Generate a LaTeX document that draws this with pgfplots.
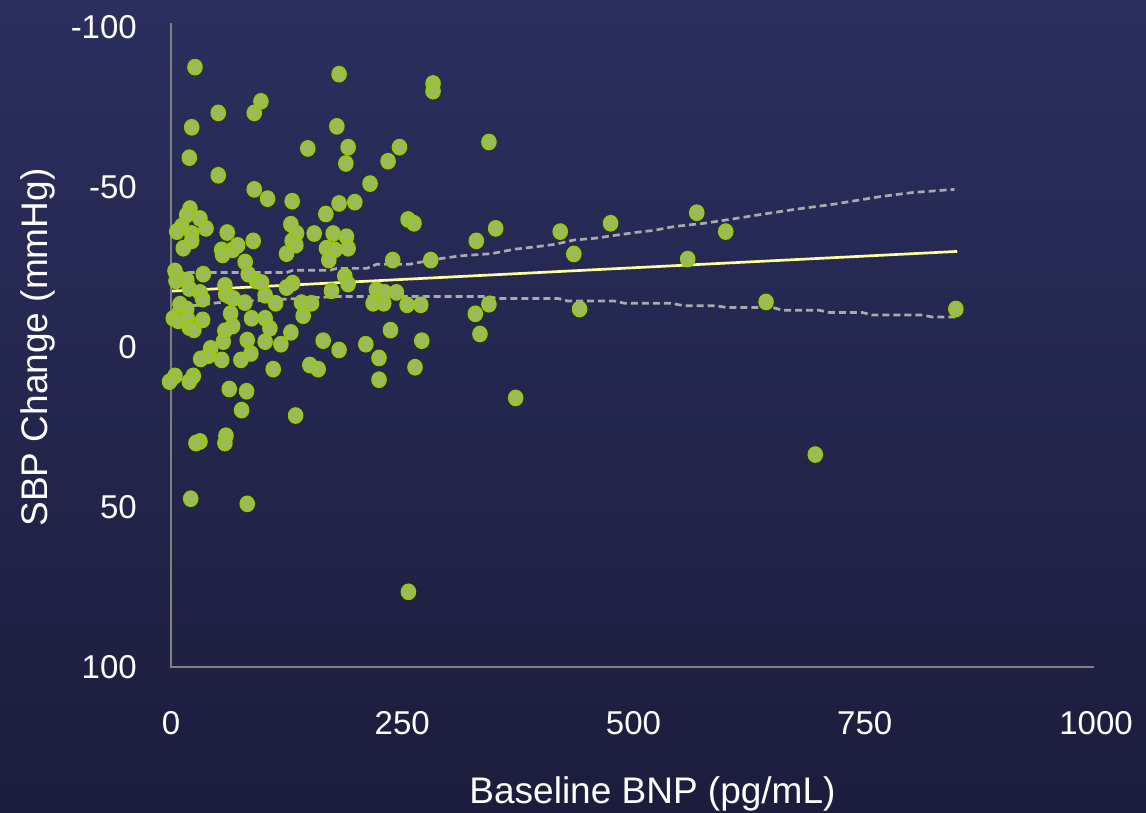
\documentclass[border=0pt]{standalone}
\usepackage{fontspec}
\setmainfont{Liberation Sans}
\usepackage{pgfplots}
\pgfplotsset{compat=1.18}
\definecolor{bgtop}{RGB}{43,47,94}
\definecolor{bgbot}{RGB}{28,29,60}
\definecolor{ptfill}{RGB}{155,187,89}
\definecolor{ptdraw}{RGB}{153,204,0}
\definecolor{axgray}{RGB}{128,128,128}
\definecolor{cigray}{RGB}{170,170,170}
\definecolor{regyel}{RGB}{255,255,153}

\begin{document}
\begin{tikzpicture}[x=1pt,y=1pt]
\useasboundingbox (0,0) rectangle (1146,812);
\shade[top color=bgtop,bottom color=bgbot] (0,0) rectangle (1146,812);
\begin{axis}[
  at={(171pt,145pt)}, anchor=south west,
  scale only axis, width=925pt, height=644pt,
  xmin=0, xmax=1000, ymin=-101.3, ymax=100,
  y dir=reverse, clip=false,
  axis line style={draw=none},
  major tick length=0pt,
  xtick={0,250,500,750,1000},
  ytick={-100,-50,0,50,100},
  /pgf/number format/assume math mode=true,
  /pgf/number format/1000 sep={},
  tick label style={font=\fontsize{33}{40}\selectfont, text=white, inner sep=0pt},
  xticklabel style={anchor=center, yshift=-56pt},
  yticklabel style={anchor=east, xshift=-34pt},
]
\addplot[only marks, mark=*, mark size=7pt,
  mark options={fill=ptfill, draw=ptdraw, line width=1.6pt, yscale=1.08}] coordinates {
(25.9,-87.5) (181.7,-85.3) (283.3,-82.4) (283.3,-80.0) (97.2,-76.8)
(90.0,-73.2) (51.1,-73.2) (22.4,-68.7) (179.3,-69.0) (19.8,-59.2)
(147.9,-62.1) (191.5,-62.5) (247.0,-62.5) (189.0,-57.4) (234.7,-58.1)
(51.1,-53.7) (215.2,-51.1) (90.0,-49.3) (104.4,-46.4) (131.0,-45.6)
(181.7,-44.9) (198.7,-45.3) (167.4,-41.6) (20.5,-43.3) (17.0,-41.3)
(31.3,-40.2) (37.8,-37.1) (11.6,-37.8) (6.2,-36.1) (22.4,-35.5)
(22.4,-33.2) (13.3,-30.9) (60.8,-35.8) (54.8,-30.4) (55.8,-28.8)
(66.6,-30.4) (72.0,-31.8) (88.9,-33.2) (80.2,-26.6) (129.6,-38.4)
(135.7,-35.6) (131.0,-33.2) (135.0,-31.9) (124.9,-29.2) (154.8,-35.5)
(175.3,-35.5) (189.7,-34.5) (191.5,-30.9) (168.1,-30.9) (177.1,-30.4)
(170.6,-27.2) (256.3,-39.9) (262.7,-38.7) (239.7,-27.2) (280.8,-27.2)
(4.3,-23.8) (5.4,-20.7) (17.0,-21.0) (34.9,-22.8) (83.5,-22.8)
(92.5,-20.7) (187.9,-22.2) (131.4,-20.0)
(19.8,-18.3) (31.3,-17.1) (34.2,-15.0) (58.3,-19.3) (59.1,-16.5)
(67.3,-15.2) (79.9,-13.9) (97.9,-20.2) (101.8,-16.2) (113.1,-13.7)
(124.9,-18.6) (141.1,-13.9) (151.9,-13.7) (173.5,-17.6) (191.5,-19.7)
(222.1,-17.9) (218.5,-13.7) (230.0,-13.7) (231.1,-17.1) (243.7,-17.1)
(255.2,-13.2) (270.0,-13.2) (9.7,-13.4) (17.0,-11.9) (2.5,-9.0)
(7.9,-8.2) (17.6,-9.0) (19.8,-6.1) (24.8,-5.4) (34.2,-8.5)
(64.5,-10.5) (66.6,-6.6) (58.3,-5.1) (56.5,-1.7) (42.9,0.4)
(40.3,2.7) (32.1,3.7) (54.8,4.0) (82.4,-2.2) (87.1,-9.0)
(86.4,2.0) (75.6,4.0) (101.8,-9.0) (106.9,-5.9) (101.8,-1.7)
(118.8,-0.9) (129.6,-4.6) (142.9,-9.8) (164.5,-2.0) (181.7,0.9)
(210.6,-0.9) (237.3,-5.3) (224.9,3.4) (271.1,-2.0) (263.8,6.3)
(224.9,10.2) (110.5,6.9) (150.1,5.6) (159.1,6.9) (4.3,9.0)
(-1.5,10.8) (24.1,9.0) (19.8,10.8) (63.0,13.1) (81.7,13.8)
(76.3,19.7) (134.7,21.4) (31.3,29.5) (27.0,30.0) (59.4,27.7)
(58.3,30.0) (21.3,47.4) (82.4,49.0)
(343.7,-64.1) (330.1,-33.2) (351.0,-37.1) (420.8,-36.1) (435.5,-29.1)
(475.2,-38.7) (568.4,-42.0) (558.6,-27.5) (343.7,-13.4) (329.0,-10.4)
(334.0,-4.1) (441.7,-11.9) (599.7,-36.1) (643.3,-14.1) (848.5,-11.9)
(696.5,33.6) (256.7,76.5) (372.6,15.9)
};
% upper confidence band
\addplot[cigray, line width=2.7pt, dash pattern=on 7pt off 4pt] coordinates {
(6,-23.3) (125,-23.3) (131.7,-24.0) (171.7,-24.0) (179.3,-24.6) (211.7,-24.6)
(222.5,-25.9) (258.1,-25.9) (287.3,-27.5) (312.1,-28.5) (346.3,-29.2)
(371.5,-30.6) (393.1,-31.3) (414.7,-32.1) (436.3,-33.5) (457.9,-34.0)
(479.5,-34.9) (501.1,-35.8) (522.7,-36.5) (544.3,-37.7) (576.7,-38.7)
(603.7,-39.9) (643.3,-41.7) (675.7,-43.1) (715.2,-44.6) (765.7,-47.0)
(801.3,-48.3) (847,-49.3)
};
% lower confidence band
\addplot[cigray, line width=2.7pt, dash pattern=on 7pt off 4pt] coordinates {
(0,-11.3) (9.7,-12.7) (31.3,-13.1) (51.1,-13.9) (81.7,-14.4) (125,-15.0)
(179,-15.8) (342.7,-15.8) (353.5,-15.2) (418.3,-15.2) (429,-14.4)
(479.5,-14.4) (490.3,-13.7) (540.7,-13.7) (555,-12.9) (589.3,-12.9)
(600.1,-12.4) (650.4,-12.4) (661.2,-11.5) (700.9,-11.5) (711.7,-10.8)
(747.6,-10.8) (758.4,-10.0) (812.4,-10.0) (823.2,-9.4) (850,-9.4)
};
% regression line
\addplot[regyel, line width=2.7pt] coordinates {(0,-17.5) (850,-29.9)};
\draw[axgray, line width=2.5pt] (axis cs:0,-101.3) -- (axis cs:0,100) -- (axis cs:998,100);
\end{axis}
\node[anchor=base, font=\fontsize{37}{44}\selectfont, text=white, inner sep=0pt] at (652.5,9) {Baseline BNP (pg/mL)};
\node[rotate=90, anchor=base, font=\fontsize{37}{44}\selectfont, text=white, inner sep=0pt] at (47,464.5) {SBP Change (mmHg)};
\end{tikzpicture}
\end{document}
